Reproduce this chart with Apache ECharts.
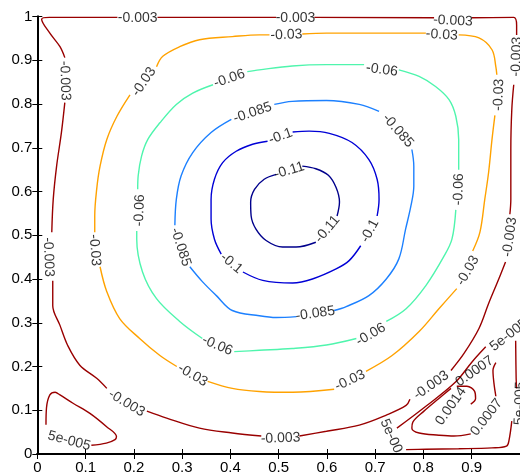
<!DOCTYPE html>
<html><head><meta charset="utf-8">
<script src="https://cdn.jsdelivr.net/npm/echarts@6/dist/echarts.min.js"></script>
<style>html,body{margin:0;padding:0;background:#fff;}#c{width:520px;height:475px;}</style>
</head><body><div id="c"></div>
<script>
const xTicks = [0,0.1,0.2,0.3,0.4,0.5,0.6,0.7,0.8,0.9,1];
const yTicks = [0,0.1,0.2,0.3,0.4,0.5,0.6,0.7,0.8,0.9,1];
const levels = ['-0.11','-0.1','-0.085','-0.06','-0.03','-0.003','5e-005','0.0007','0.0014'];

// contour polylines (data coordinates), split where labels sit
const c_m011 = [
 [[0.549,0.658],[0.577,0.652],[0.603,0.637],[0.619,0.609],[0.626,0.576],[0.621,0.544]],
 [[0.577,0.484],[0.536,0.473],[0.508,0.473],[0.474,0.488],[0.453,0.514],[0.443,0.544],[0.442,0.576],[0.450,0.605],[0.470,0.628],[0.495,0.639]]
];
const c_m010 = [
 [[0.529,0.736],[0.563,0.738],[0.605,0.733],[0.652,0.712],[0.687,0.673],[0.704,0.628],[0.708,0.582],[0.704,0.544]],
 [[0.670,0.476],[0.646,0.442],[0.619,0.423],[0.570,0.400],[0.529,0.391],[0.467,0.397],[0.426,0.416]],
 [[0.381,0.457],[0.367,0.491],[0.360,0.537],[0.360,0.582],[0.367,0.628],[0.384,0.666],[0.412,0.692],[0.446,0.708],[0.477,0.715]]
];
const c_m085 = [
 [[0.491,0.799],[0.528,0.806],[0.599,0.808],[0.667,0.799],[0.708,0.783]],
 [[0.776,0.696],[0.780,0.658],[0.780,0.612],[0.774,0.567],[0.763,0.514],[0.749,0.446],[0.723,0.400],[0.687,0.362],[0.640,0.337],[0.615,0.328]],
 [[0.537,0.314],[0.495,0.312],[0.460,0.316],[0.404,0.328],[0.371,0.362],[0.342,0.394],[0.316,0.428]],
 [[0.285,0.523],[0.288,0.582],[0.298,0.636],[0.322,0.689],[0.360,0.735],[0.402,0.765]]
];
const c_m060 = [
 [[0.435,0.874],[0.460,0.878],[0.528,0.887],[0.599,0.890],[0.677,0.890]],
 [[0.749,0.878],[0.791,0.863],[0.825,0.840],[0.853,0.810],[0.867,0.772],[0.873,0.719],[0.873,0.650]],
 [[0.867,0.558],[0.859,0.491],[0.842,0.451],[0.805,0.385],[0.764,0.332],[0.723,0.303]],
 [[0.661,0.264],[0.599,0.249],[0.528,0.241],[0.460,0.237],[0.408,0.234]],
 [[0.342,0.264],[0.295,0.303],[0.247,0.355],[0.218,0.416],[0.206,0.491],[0.206,0.510]],
 [[0.208,0.605],[0.209,0.636],[0.216,0.681],[0.229,0.719],[0.254,0.757],[0.288,0.799],[0.322,0.825],[0.364,0.844]]
];
const c_m030 = [
 [[0.247,0.885],[0.260,0.909],[0.295,0.931],[0.336,0.947],[0.404,0.954],[0.460,0.958],[0.481,0.958]],
 [[0.549,0.960],[0.599,0.962],[0.667,0.962],[0.735,0.962],[0.805,0.962]],
 [[0.873,0.958],[0.915,0.951],[0.942,0.924],[0.950,0.885],[0.952,0.867]],
 [[0.948,0.774],[0.942,0.719],[0.935,0.644],[0.927,0.582],[0.917,0.507],[0.902,0.464]],
 [[0.869,0.378],[0.832,0.332],[0.791,0.280],[0.735,0.225],[0.681,0.189]],
 [[0.615,0.148],[0.529,0.141],[0.460,0.143],[0.404,0.150],[0.353,0.166]],
 [[0.289,0.200],[0.254,0.225],[0.212,0.264],[0.171,0.309],[0.144,0.371],[0.130,0.428]],
 [[0.119,0.507],[0.119,0.544],[0.123,0.605],[0.130,0.658],[0.144,0.719],[0.165,0.772],[0.192,0.821]]
];
const c_m003 = [
 [[0.057,0.906],[0.047,0.931],[0.026,0.962],[0.009,0.994],[0.025,0.998],[0.166,0.998]],
 [[0.249,0.998],[0.495,0.998]],
 [[0.574,0.998],[0.822,0.997]],
 [[0.900,0.997],[0.987,0.998],[0.993,0.980],[0.993,0.958]],
 [[0.987,0.844],[0.983,0.787],[0.981,0.696],[0.981,0.582],[0.979,0.548]],
 [[0.970,0.439],[0.956,0.400],[0.935,0.344],[0.915,0.287],[0.884,0.230],[0.857,0.191]],
 [[0.772,0.125],[0.764,0.111],[0.723,0.089],[0.667,0.066],[0.599,0.052],[0.543,0.041]],
 [[0.464,0.041],[0.404,0.048],[0.336,0.059],[0.268,0.082],[0.227,0.098]],
 [[0.144,0.150],[0.123,0.173],[0.088,0.203],[0.063,0.248],[0.047,0.294],[0.032,0.339],[0.032,0.396]],
 [[0.030,0.507],[0.033,0.582],[0.040,0.658],[0.050,0.735],[0.057,0.803]]
];
const c_p5e5 = [
 [[0.018,0.067],[0.019,0.105],[0.026,0.135],[0.037,0.141],[0.047,0.135],[0.074,0.116],[0.109,0.093],[0.143,0.063],[0.164,0.040],[0.161,0.033],[0.143,0.025],[0.112,0.020]],
 [[0.745,0.059],[0.805,0.109],[0.867,0.165],[0.901,0.211],[0.929,0.245]],
 [[0.991,0.259],[0.992,0.173],[0.993,0.150]],
 [[0.983,0.075],[0.977,0.030],[0.972,0.018],[0.942,0.014],[0.873,0.012],[0.805,0.011],[0.764,0.010]]
];
const c_p0007 = [
 [[0.950,0.209],[0.944,0.191],[0.946,0.162],[0.950,0.132]],
 [[0.898,0.046],[0.863,0.041],[0.832,0.043],[0.791,0.048],[0.776,0.059],[0.778,0.073],[0.801,0.098],[0.832,0.127],[0.857,0.150]]
];
const c_p0014 = [
 [[0.869,0.155],[0.890,0.155],[0.906,0.143],[0.908,0.127],[0.898,0.114]]
];

// inline labels: [x, y, text]
const lab_m011 = [[0.522,0.648,'-0.11'],[0.601,0.514,'-0.11']];
const lab_m010 = [[0.504,0.726,'-0.1'],[0.689,0.510,'-0.1'],[0.402,0.436,'-0.1']];
const lab_m085 = [[0.747,0.739,'-0.085'],[0.576,0.321,'-0.085'],[0.297,0.473,'-0.085'],[0.446,0.780,'-0.085']];
const lab_m060 = [[0.714,0.878,'-0.06'],[0.873,0.605,'-0.06'],[0.691,0.273,'-0.06'],[0.373,0.248,'-0.06'],[0.212,0.557,'-0.06'],[0.398,0.858,'-0.06']];
const lab_m030 = [[0.516,0.958,'-0.03'],[0.838,0.958,'-0.03'],[0.956,0.821,'-0.03'],[0.892,0.419,'-0.03'],[0.648,0.168,'-0.03'],[0.322,0.180,'-0.03'],[0.119,0.466,'-0.03'],[0.221,0.851,'-0.03']];
const lab_m003 = [[0.208,0.997,'-0.003'],[0.535,0.997,'-0.003'],[0.861,0.990,'-0.003'],[0.993,0.908,'-0.003'],[0.979,0.496,'-0.003'],[0.816,0.157,'-0.003'],[0.504,0.036,'-0.003'],[0.185,0.116,'-0.003'],[0.023,0.450,'-0.003'],[0.057,0.853,'-0.003']];
const lab_p5e5 = [[0.066,0.030,'5e-005'],[0.977,0.272,'5e-005'],[1.0,0.116,'5e-005'],[0.733,0.041,'5e-00']];
const lab_p0007 = [[0.931,0.084,'0.0007'],[0.906,0.189,'0.0007']];
const lab_p0014 = [[0.857,0.109,'0.0014']];
// label angles (degrees), same order as the label lists
const rot_m011 = [17,50];
const rot_m010 = [20,62,-40];
const rot_m085 = [-49,8,-72,19];
const rot_m060 = [-8,88,30,-23,88,19];
const rot_m030 = [2,-4,88,60,25,-30,-86,55];
const rot_m003 = [0,0,-3,88,82,35,2,-31,-88,-88];
const rot_p5e5 = [-15,38,88,-66];
const rot_p0007 = [52,35];
const rot_p0014 = [55];

const groups = [
 {segs:c_m011, labs:lab_m011, rots:rot_m011, color:'#00008c'},
 {segs:c_m010, labs:lab_m010, rots:rot_m010, color:'#0000d6'},
 {segs:c_m085, labs:lab_m085, rots:rot_m085, color:'#1c80ff'},
 {segs:c_m060, labs:lab_m060, rots:rot_m060, color:'#4ff5ad'},
 {segs:c_m030, labs:lab_m030, rots:rot_m030, color:'#ffa200'},
 {segs:c_m003, labs:lab_m003, rots:rot_m003, color:'#990000'},
 {segs:c_p5e5, labs:lab_p5e5, rots:rot_p5e5, color:'#990000'},
 {segs:c_p0007, labs:lab_p0007, rots:rot_p0007, color:'#990000'},
 {segs:c_p0014, labs:lab_p0014, rots:rot_p0014, color:'#990000'}
];

const series = [];
groups.forEach(g => {
  g.segs.forEach(s => series.push({
    type:'line', data:s, showSymbol:false, smooth:0.35, silent:true,
    lineStyle:{color:g.color, width:1.4}, z:3
  }));
});
const labelData = [];
groups.forEach(g => {
  g.labs.forEach((l,i) => labelData.push({
    value:[l[0], l[1]],
    label:{formatter:l[2], rotate:g.rots[i]}
  }));
});
series.push({
  type:'scatter', data:labelData, symbolSize:1, silent:true, z:5,
  itemStyle:{color:'rgba(0,0,0,0)'},
  label:{show:true, position:'inside', align:'center', verticalAlign:'middle',
    color:'#000', fontSize:14, fontFamily:'Liberation Sans'}
});

const font = {color:'#000', fontSize:15, fontFamily:'Liberation Sans'};
const chart = echarts.init(document.getElementById('c'), null, {renderer:'canvas'});
chart.setOption({
  animation:false,
  backgroundColor:'#fff',
  grid:{left:37.3, top:16.5, width:484, height:439.5},
  xAxis:[
    {type:'value', min:xTicks[0], max:xTicks[xTicks.length-1], interval:0.1, position:'bottom',
     axisLine:{lineStyle:{color:'#000', width:2}}, axisTick:{inside:true, length:5, lineStyle:{color:'#000'}},
     axisLabel:Object.assign({margin:6, showMaxLabel:false}, font), splitLine:{show:false}},
    {type:'value', min:xTicks[0], max:xTicks[xTicks.length-1], interval:0.1, position:'top',
     axisLine:{lineStyle:{color:'#000', width:2}}, axisTick:{inside:true, length:5, lineStyle:{color:'#000'}},
     axisLabel:{show:false}, splitLine:{show:false}}
  ],
  yAxis:[
    {type:'value', min:yTicks[0], max:yTicks[yTicks.length-1], interval:0.1, position:'left',
     axisLine:{lineStyle:{color:'#000', width:2}}, axisTick:{inside:true, length:5, lineStyle:{color:'#000'}},
     axisLabel:Object.assign({margin:5}, font), splitLine:{show:false}},
    {type:'value', min:yTicks[0], max:yTicks[yTicks.length-1], interval:0.1, position:'right',
     axisLine:{lineStyle:{color:'#000', width:2}}, axisTick:{inside:true, length:5, lineStyle:{color:'#000'}},
     axisLabel:{show:false}, splitLine:{show:false}}
  ],
  series:series
});
</script>
</body></html>
